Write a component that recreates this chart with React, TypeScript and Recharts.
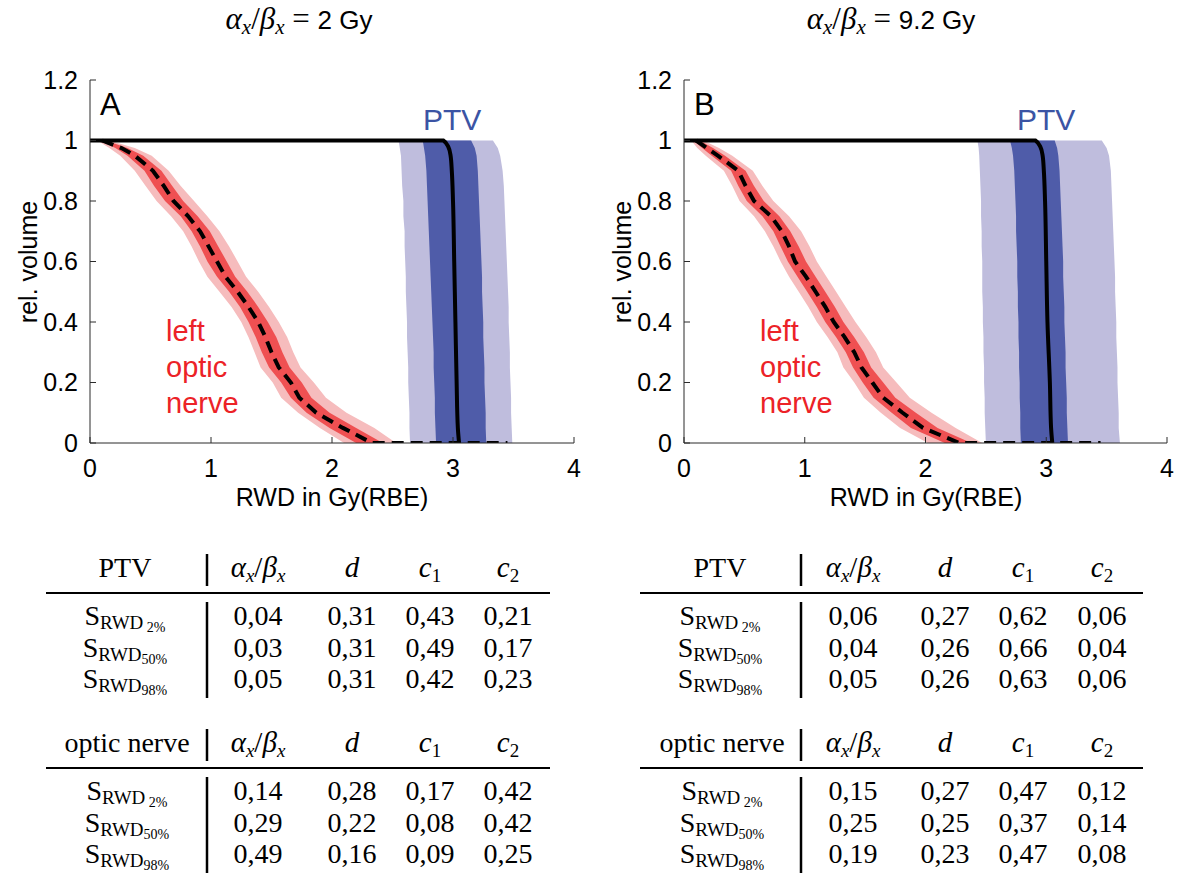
import React from "react";
import { ComposedChart, Area, Line, XAxis, YAxis } from "recharts";

const SANS = "'Liberation Sans', Arial, sans-serif";
const SERIF = "'Liberation Serif', 'Times New Roman', serif";
const AXIS = "#2b2b2b";

const PTV_LIGHT = "#bfbddd";
const PTV_DARK = "#4f5ca9";
const NERVE_LIGHT = "#f6bcbd";
const NERVE_DARK = "#ef5052";

const X_TICKS = [0, 1, 2, 3, 4];
const Y_TICKS = [0, 0.2, 0.4, 0.6, 0.8, 1, 1.2];

// volume levels at which the dose bands are sampled
const VOL = [1, 0.975, 0.95, 0.9, 0.85, 0.8, 0.75, 0.7, 0.65, 0.6, 0.55, 0.5, 0.45, 0.4, 0.35, 0.3, 0.25, 0.2, 0.15, 0.1, 0.05, 0];

// ---- panel A: alpha/beta = 2 Gy ----
const PTV_LIGHT_LO_A = [2.55, 2.56, 2.57, 2.575, 2.58, 2.59, 2.59, 2.6, 2.6, 2.605, 2.61, 2.61, 2.615, 2.62, 2.62, 2.625, 2.63, 2.63, 2.635, 2.64, 2.64, 2.645];
const PTV_DARK_LO_A = [2.75, 2.76, 2.77, 2.78, 2.785, 2.79, 2.795, 2.8, 2.805, 2.81, 2.815, 2.82, 2.825, 2.83, 2.835, 2.84, 2.84, 2.845, 2.85, 2.85, 2.855, 2.86];
const PTV_DARK_HI_A = [3.15, 3.18, 3.195, 3.205, 3.21, 3.215, 3.22, 3.225, 3.23, 3.235, 3.24, 3.24, 3.245, 3.25, 3.25, 3.255, 3.26, 3.26, 3.265, 3.27, 3.27, 3.275];
const PTV_LIGHT_HI_A = [3.33, 3.37, 3.39, 3.41, 3.42, 3.425, 3.43, 3.435, 3.44, 3.445, 3.45, 3.455, 3.46, 3.46, 3.465, 3.47, 3.47, 3.475, 3.48, 3.48, 3.485, 3.49];

const NERVE_MEAN_A = [0.1, 0.26, 0.37, 0.52, 0.61, 0.69, 0.81, 0.91, 0.98, 1.05, 1.12, 1.22, 1.31, 1.39, 1.45, 1.5, 1.56, 1.66, 1.73, 1.87, 2.09, 2.33];
const NERVE_DARK_LO_A = [0.08, 0.21, 0.31, 0.45, 0.53, 0.62, 0.75, 0.84, 0.91, 0.97, 1.05, 1.15, 1.24, 1.31, 1.37, 1.42, 1.48, 1.58, 1.66, 1.79, 1.98, 2.2];
const NERVE_DARK_HI_A = [0.13, 0.31, 0.44, 0.59, 0.68, 0.77, 0.89, 0.99, 1.06, 1.13, 1.2, 1.3, 1.39, 1.47, 1.54, 1.59, 1.65, 1.75, 1.83, 1.98, 2.2, 2.42];
const NERVE_LIGHT_LO_A = [0.06, 0.16, 0.25, 0.37, 0.46, 0.55, 0.67, 0.77, 0.84, 0.9, 0.97, 1.07, 1.17, 1.25, 1.31, 1.36, 1.41, 1.51, 1.58, 1.72, 1.9, 2.1];
const NERVE_LIGHT_HI_A = [0.16, 0.37, 0.51, 0.65, 0.75, 0.86, 0.97, 1.07, 1.15, 1.22, 1.29, 1.39, 1.48, 1.56, 1.63, 1.68, 1.74, 1.85, 1.95, 2.12, 2.35, 2.53];

const PTV_LINE_VOL = [1, 1, 0.98, 0.95, 0.9, 0.8, 0.6, 0.4, 0.2, 0.05, 0];
const PTV_LINE_DOSE_A = [0, 2.92, 2.96, 2.98, 2.99, 3.0, 3.01, 3.02, 3.03, 3.04, 3.05];
const NERVE_TAIL_A = 3.45;

// ---- panel B: alpha/beta = 9.2 Gy ----
const PTV_LIGHT_LO_B = [2.43, 2.44, 2.445, 2.45, 2.455, 2.46, 2.46, 2.465, 2.465, 2.47, 2.47, 2.47, 2.475, 2.475, 2.48, 2.48, 2.485, 2.485, 2.49, 2.49, 2.495, 2.5];
const PTV_DARK_LO_B = [2.7, 2.715, 2.725, 2.735, 2.74, 2.745, 2.75, 2.75, 2.755, 2.76, 2.76, 2.765, 2.765, 2.77, 2.77, 2.775, 2.775, 2.78, 2.78, 2.785, 2.785, 2.79];
const PTV_DARK_HI_B = [3.07, 3.09, 3.1, 3.11, 3.115, 3.12, 3.125, 3.13, 3.135, 3.14, 3.14, 3.145, 3.15, 3.15, 3.155, 3.16, 3.16, 3.165, 3.17, 3.17, 3.175, 3.18];
const PTV_LIGHT_HI_B = [3.46, 3.5, 3.52, 3.535, 3.54, 3.545, 3.55, 3.555, 3.56, 3.565, 3.57, 3.57, 3.575, 3.58, 3.58, 3.585, 3.59, 3.59, 3.595, 3.6, 3.6, 3.61];

const NERVE_MEAN_B = [0.1, 0.19, 0.28, 0.45, 0.51, 0.58, 0.72, 0.81, 0.87, 0.92, 1.01, 1.09, 1.17, 1.24, 1.33, 1.41, 1.47, 1.56, 1.65, 1.81, 1.98, 2.28];
const NERVE_DARK_LO_B = [0.08, 0.15, 0.23, 0.39, 0.45, 0.52, 0.65, 0.74, 0.8, 0.86, 0.94, 1.02, 1.1, 1.17, 1.26, 1.34, 1.4, 1.48, 1.57, 1.72, 1.88, 2.16];
const NERVE_DARK_HI_B = [0.13, 0.24, 0.34, 0.51, 0.58, 0.66, 0.79, 0.88, 0.95, 1.01, 1.09, 1.17, 1.25, 1.32, 1.41, 1.49, 1.55, 1.65, 1.75, 1.92, 2.1, 2.38];
const NERVE_LIGHT_LO_B = [0.06, 0.11, 0.18, 0.33, 0.4, 0.46, 0.58, 0.67, 0.74, 0.8, 0.87, 0.95, 1.03, 1.1, 1.19, 1.27, 1.32, 1.41, 1.49, 1.63, 1.79, 2.02];
const NERVE_LIGHT_HI_B = [0.16, 0.29, 0.4, 0.57, 0.65, 0.74, 0.87, 0.97, 1.04, 1.1, 1.18, 1.26, 1.34, 1.42, 1.51, 1.59, 1.65, 1.76, 1.87, 2.05, 2.25, 2.47];

const PTV_LINE_DOSE_B = [0, 2.91, 2.95, 2.97, 2.98, 2.99, 3.0, 3.01, 3.03, 3.04, 3.05];
const NERVE_TAIL_B = 3.45;

// ---- sensitivity tables ----
const TABLE_COLS = ["ab", "d", "c1", "c2"];
const ROW_SUBS = [" 2%", "50%", "98%"];
const PTV_TABLE_A = [
  [0.04, 0.31, 0.43, 0.21],
  [0.03, 0.31, 0.49, 0.17],
  [0.05, 0.31, 0.42, 0.23],
];
const NERVE_TABLE_A = [
  [0.14, 0.28, 0.17, 0.42],
  [0.29, 0.22, 0.08, 0.42],
  [0.49, 0.16, 0.09, 0.25],
];
const PTV_TABLE_B = [
  [0.06, 0.27, 0.62, 0.06],
  [0.04, 0.26, 0.66, 0.04],
  [0.05, 0.26, 0.63, 0.06],
];
const NERVE_TABLE_B = [
  [0.15, 0.27, 0.47, 0.12],
  [0.25, 0.25, 0.37, 0.14],
  [0.19, 0.23, 0.47, 0.08],
];

type Bands = {
  ptv: number[][];
  nerve: number[][];
};

function buildRows({ ptv, nerve }: Bands) {
  const [pLl, pDl, pDh, pLh] = ptv;
  const [nLl, nDl, nDh, nLh] = nerve;
  return VOL.map((v, i) => ({
    v,
    ptvLight: [pLl[i], pLh[i]],
    ptvDark: [pDl[i], pDh[i]],
    nerveLight: [nLl[i], nLh[i]],
    nerveDark: [nDl[i], nDh[i]],
  }));
}

function lineData(doses: number[], vols: number[]) {
  return doses.map((d, i) => ({ v: vols[i], d }));
}

function nerveLine(mean: number[], tail: number) {
  return [...VOL.map((v, i) => ({ v, d: mean[i] })), { v: 0, d: tail }];
}

const ROWS_A = buildRows({
  ptv: [PTV_LIGHT_LO_A, PTV_DARK_LO_A, PTV_DARK_HI_A, PTV_LIGHT_HI_A],
  nerve: [NERVE_LIGHT_LO_A, NERVE_DARK_LO_A, NERVE_DARK_HI_A, NERVE_LIGHT_HI_A],
});
const ROWS_B = buildRows({
  ptv: [PTV_LIGHT_LO_B, PTV_DARK_LO_B, PTV_DARK_HI_B, PTV_LIGHT_HI_B],
  nerve: [NERVE_LIGHT_LO_B, NERVE_DARK_LO_B, NERVE_DARK_HI_B, NERVE_LIGHT_HI_B],
});

const tickStyle = { fill: "#000", fontSize: 25, fontFamily: SANS };
const blank = () => "";

function DvhPanel({ left, rightMargin, rows, ptvLine, nerve }: any) {
  return (
    <div style={{ position: "absolute", left, top: 0 }}>
      <ComposedChart
        width={600}
        height={520}
        layout="vertical"
        data={rows}
        margin={{ top: 80, left: 30, right: rightMargin, bottom: 47 }}
      >
        <XAxis
          type="number"
          domain={[0, 4]}
          ticks={X_TICKS}
          interval={0}
          allowDataOverflow
          height={30}
          tickSize={-6}
          tickMargin={22}
          tick={tickStyle}
          axisLine={{ stroke: AXIS }}
          tickLine={{ stroke: AXIS }}
        />
        <XAxis
          xAxisId="top"
          orientation="top"
          type="number"
          domain={[0, 4]}
          ticks={X_TICKS}
          interval={0}
          height={0}
          tickSize={-6}
          tickFormatter={blank}
          axisLine={{ stroke: AXIS }}
          tickLine={{ stroke: AXIS }}
        />
        <YAxis
          type="number"
          dataKey="v"
          domain={[0, 1.2]}
          ticks={Y_TICKS}
          interval={0}
          reversed
          allowDataOverflow
          width={60}
          tickSize={-6}
          tickMargin={18}
          tick={tickStyle}
          axisLine={{ stroke: AXIS }}
          tickLine={{ stroke: AXIS }}
        />
        <YAxis
          yAxisId="right"
          orientation="right"
          type="number"
          domain={[0, 1.2]}
          ticks={Y_TICKS}
          interval={0}
          reversed
          width={0}
          tickSize={-6}
          tickFormatter={blank}
          axisLine={{ stroke: AXIS }}
          tickLine={{ stroke: AXIS }}
        />
        <Area dataKey="ptvLight" type="linear" fill={PTV_LIGHT} fillOpacity={1} stroke="none" isAnimationActive={false} activeDot={false} />
        <Area dataKey="ptvDark" type="linear" fill={PTV_DARK} fillOpacity={1} stroke="none" isAnimationActive={false} activeDot={false} />
        <Area dataKey="nerveLight" type="linear" fill={NERVE_LIGHT} fillOpacity={1} stroke="none" isAnimationActive={false} activeDot={false} />
        <Area dataKey="nerveDark" type="linear" fill={NERVE_DARK} fillOpacity={1} stroke="none" isAnimationActive={false} activeDot={false} />
        <Line
          data={nerve}
          dataKey="d"
          type="linear"
          stroke="#000"
          strokeWidth={4}
          strokeDasharray="12 7"
          dot={false}
          activeDot={false}
          isAnimationActive={false}
        />
        <Line
          data={ptvLine}
          dataKey="d"
          type="monotone"
          stroke="#000"
          strokeWidth={4}
          dot={false}
          activeDot={false}
          isAnimationActive={false}
        />
      </ComposedChart>
    </div>
  );
}

function Title({ cx, value }: { cx: number; value: string }) {
  return (
    <text x={cx} y={29} textAnchor="middle" fontSize={31} style={{ whiteSpace: "pre" }}>
      <tspan fontFamily={SERIF} fontStyle="italic">α</tspan>
      <tspan fontFamily={SERIF} fontStyle="italic" fontSize={21} dy={5}>x</tspan>
      <tspan fontFamily={SERIF} dy={-5}>/</tspan>
      <tspan fontFamily={SERIF} fontStyle="italic">β</tspan>
      <tspan fontFamily={SERIF} fontStyle="italic" fontSize={21} dy={5}>x</tspan>
      <tspan fontFamily={SERIF} dy={-5}>{" = "}</tspan>
      <tspan fontFamily={SANS} fontSize={26}>{value}</tspan>
    </text>
  );
}

function PanelText({ x0, letter }: { x0: number; letter: string }) {
  // x0 is the pixel position of dose 0
  return (
    <g fontFamily={SANS}>
      <text x={x0 - 62} y={262} fontSize={25} textAnchor="middle" transform={`rotate(-90 ${x0 - 62} 262)`} dominantBaseline="central">
        rel. volume
      </text>
      <text x={x0 + 242} y={506} fontSize={25} textAnchor="middle">RWD in Gy(RBE)</text>
      <text x={x0 + 10} y={115} fontSize={31}>{letter}</text>
      <text x={x0 + 333} y={130} fontSize={30} fill="#3b54a4">PTV</text>
      <g fill="#ec2227" fontSize={29}>
        <text x={x0 + 76} y={341}>left</text>
        <text x={x0 + 76} y={377}>optic</text>
        <text x={x0 + 76} y={413}>nerve</text>
      </g>
    </g>
  );
}

function HeaderCell({ kind, x, y }: { kind: string; x: number; y: number }) {
  if (kind === "ab") {
    return (
      <text x={x} y={y} textAnchor="middle" fontSize={29} fontStyle="italic">
        <tspan>α</tspan>
        <tspan fontSize={19} dy={5}>x</tspan>
        <tspan dy={-5} fontStyle="normal">/</tspan>
        <tspan>β</tspan>
        <tspan fontSize={19} dy={5}>x</tspan>
      </text>
    );
  }
  if (kind === "d") {
    return <text x={x} y={y} textAnchor="middle" fontSize={29} fontStyle="italic">d</text>;
  }
  return (
    <text x={x} y={y} textAnchor="middle" fontSize={29}>
      <tspan fontStyle="italic">c</tspan>
      <tspan fontSize={19} dy={5}>{kind === "c1" ? "1" : "2"}</tspan>
    </text>
  );
}

function MetricTable({ title, values, labelX, barX, colX, ruleL, ruleR, headY }: any) {
  const ruleY = headY + 16;
  const rowY = [headY + 48, headY + 80, headY + 111];
  return (
    <g fontFamily={SERIF} fill="#000">
      <text x={labelX} y={headY} textAnchor="middle" fontSize={28}>{title}</text>
      <line x1={barX} x2={barX} y1={headY - 23} y2={headY + 9} stroke="#000" strokeWidth={2.5} />
      {TABLE_COLS.map((c, i) => (
        <HeaderCell key={c} kind={c} x={colX[i]} y={headY} />
      ))}
      <line x1={ruleL} x2={ruleR} y1={ruleY} y2={ruleY} stroke="#000" strokeWidth={2.2} />
      <line x1={barX} x2={barX} y1={ruleY + 9} y2={rowY[2] + 10} stroke="#000" strokeWidth={2.5} />
      {values.map((row: number[], r: number) => (
        <g key={r}>
          <text x={labelX} y={rowY[r]} textAnchor="middle" style={{ whiteSpace: "pre" }}>
            <tspan fontSize={28}>S</tspan>
            <tspan fontSize={19} dy={4}>RWD</tspan>
            <tspan fontSize={14} dy={3}>{ROW_SUBS[r]}</tspan>
          </text>
          {row.map((val, c) => (
            <text key={c} x={colX[c]} y={rowY[r]} textAnchor="middle" fontSize={28}>
              {val.toFixed(2).replace(".", ",")}
            </text>
          ))}
        </g>
      ))}
    </g>
  );
}

export default function App() {
  return (
    <div style={{ position: "absolute", left: 0, top: 0, width: 1177, height: 875, background: "#fff", overflow: "hidden" }}>
      <DvhPanel left={0} rightMargin={26} rows={ROWS_A} ptvLine={lineData(PTV_LINE_DOSE_A, PTV_LINE_VOL)} nerve={nerveLine(NERVE_MEAN_A, NERVE_TAIL_A)} />
      <DvhPanel left={594} rightMargin={27} rows={ROWS_B} ptvLine={lineData(PTV_LINE_DOSE_B, PTV_LINE_VOL)} nerve={nerveLine(NERVE_MEAN_B, NERVE_TAIL_B)} />
      <svg width={1177} height={875} style={{ position: "absolute", left: 0, top: 0, pointerEvents: "none" }}>
        <Title cx={299} value="2 Gy" />
        <Title cx={891} value="9.2 Gy" />
        <PanelText x0={90} letter="A" />
        <PanelText x0={684} letter="B" />
        <MetricTable title="PTV" values={PTV_TABLE_A} labelX={125} barX={207} colX={[258, 352, 430, 508]} ruleL={46} ruleR={550} headY={577} />
        <MetricTable title="optic nerve" values={NERVE_TABLE_A} labelX={127} barX={207} colX={[258, 352, 430, 508]} ruleL={46} ruleR={550} headY={752} />
        <MetricTable title="PTV" values={PTV_TABLE_B} labelX={720} barX={801} colX={[853, 945, 1023, 1102]} ruleL={640} ruleR={1143} headY={577} />
        <MetricTable title="optic nerve" values={NERVE_TABLE_B} labelX={722} barX={801} colX={[853, 945, 1023, 1102]} ruleL={640} ruleR={1143} headY={752} />
      </svg>
    </div>
  );
}
